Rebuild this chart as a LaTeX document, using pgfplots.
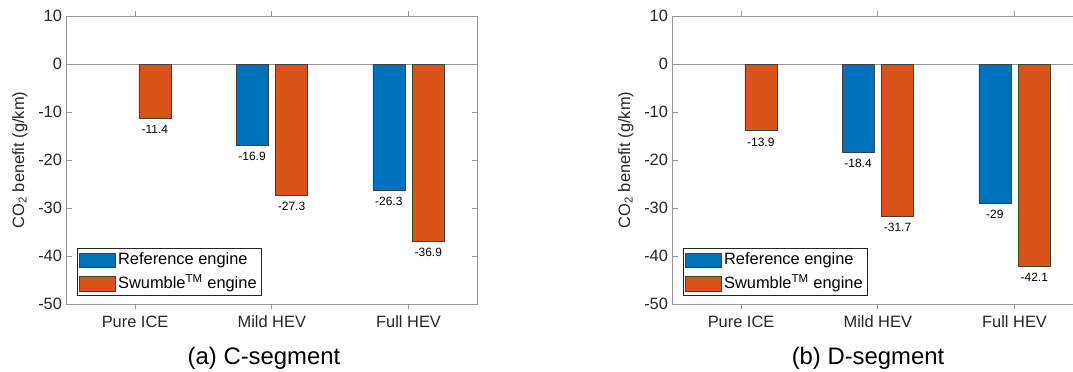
\documentclass[border=0pt]{standalone}
\usepackage{pgfplots}
\pgfplotsset{compat=1.18}
\usepackage{fontspec}
\setmainfont{Liberation Sans}

\definecolor{refblue}{RGB}{0,114,189}
\definecolor{swuorange}{RGB}{217,83,25}
\definecolor{axisgray}{RGB}{150,150,150}
\definecolor{labelgray}{RGB}{38,38,38}

\pgfplotsset{
  segaxis/.style={
    scale only axis, width=307.7pt, height=216pt,
    xmin=0.5, xmax=3.5, ymin=-50, ymax=10,
    xtick={1,2,3}, xticklabels={Pure ICE, Mild HEV, Full HEV},
    ytick={-50,-40,-30,-20,-10,0,10},
    yticklabels={-50,-40,-30,-20,-10,0,10},
    tick align=inside, tick pos=both, major tick length=3.75pt,
    axis line style={axisgray, line width=0.5pt},
    every tick/.style={axisgray, line width=0.5pt},
    tick label style={font=\fontsize{12.3}{14}\selectfont, text=labelgray},
    xticklabel style={yshift=-1.5pt},
    ylabel={CO\textsubscript{2} benefit (g/km)},
    ylabel style={font=\fontsize{12.3}{14}\selectfont, text=labelgray,
      at={(axis description cs:-0.114,0.5)}, anchor=center},
    ybar=5.6pt, bar width=24pt,
    point meta=explicit symbolic,
    nodes near coords,
    nodes near coords style={font=\fontsize{9}{10}\selectfont, text=black, anchor=north, inner sep=2pt, yshift=-3pt},
    legend image code/.code={\draw[#1, line width=0.4pt] (0pt,-5.6pt) rectangle (27pt,5.6pt);},
    legend cell align=left,
    legend style={at={(axis description cs:0.0244,0.0288)}, anchor=south west,
      draw=labelgray, line width=0.4pt, fill=white,
      inner xsep=1.5pt, inner ysep=3pt, row sep=6pt,
      font=\fontsize{12.3}{14}\selectfont,
      nodes={inner xsep=2pt, inner ysep=0pt, text height=9pt, text depth=2.5pt}},
  },
  refbar/.style={fill=refblue, draw=black!75, line width=0.4pt},
  swubar/.style={fill=swuorange, draw=black!75, line width=0.4pt},
}

\begin{document}
\begin{tikzpicture}
\useasboundingbox (0,0) rectangle (804.75pt,-278.25pt);
\clip (0,0) rectangle (804.75pt,-278.25pt);

% C-segment
\begin{axis}[segaxis, at={(50pt,-228pt)}, anchor=south west]
  \draw[axisgray, line width=0.5pt] (axis cs:0.5,0) -- (axis cs:3.5,0);
  \addplot[refbar] coordinates {(2,-16.9) [-16.9] (3,-26.3) [-26.3]};
  \addplot[swubar] coordinates {(1,-11.4) [-11.4] (2,-27.3) [-27.3] (3,-36.9) [-36.9]};
  \addlegendentry{Reference engine}
  \addlegendentry{Swumble\textsuperscript{TM} engine}
\end{axis}
\node[font=\fontsize{17.9}{20}\selectfont, text=black] at (198pt,-268.5pt) {(a) C-segment};

% D-segment
\begin{axis}[segaxis, at={(504.5pt,-228pt)}, anchor=south west]
  \draw[axisgray, line width=0.5pt] (axis cs:0.5,0) -- (axis cs:3.5,0);
  \addplot[refbar] coordinates {(2,-18.4) [-18.4] (3,-29) [-29]};
  \addplot[swubar] coordinates {(1,-13.9) [-13.9] (2,-31.7) [-31.7] (3,-42.1) [-42.1]};
  \addlegendentry{Reference engine}
  \addlegendentry{Swumble\textsuperscript{TM} engine}
\end{axis}
\node[font=\fontsize{17.9}{20}\selectfont, text=black] at (651pt,-268.5pt) {(b) D-segment};
\end{tikzpicture}
\end{document}
